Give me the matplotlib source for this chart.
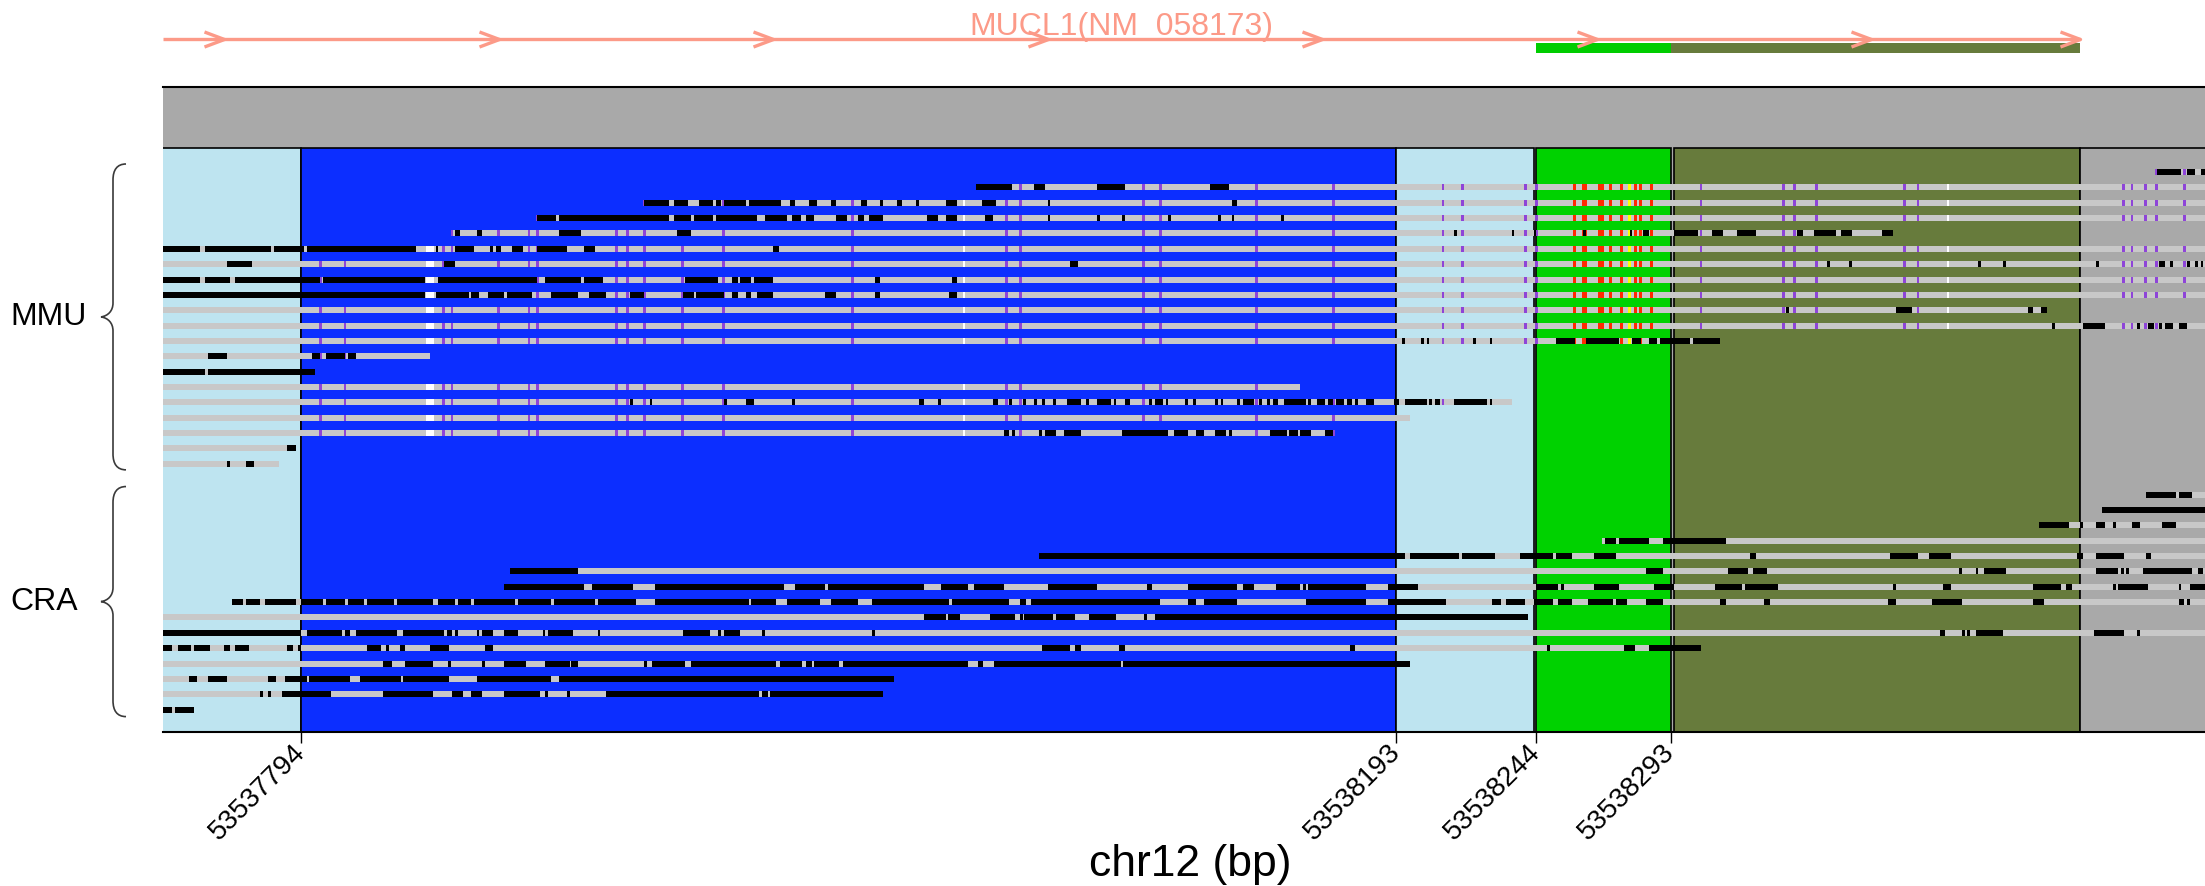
import matplotlib.pyplot as plt
from matplotlib.patches import Rectangle, PathPatch
from matplotlib.path import Path

plt.rcParams['font.family'] = ['Liberation Sans', 'DejaVu Sans']

# chr12 window; read positions below are offsets (bp) from START
START = 53537794
VIEW = (53537743.7, 53538487.6)

REGION_FROM = [53537600, 53537794, 53538193, 53538244, 53538294, 53538442]
REGION_TO = [53537794, 53538193, 53538243, 53538293, 53538442, 53538700]
REGION_COLORS = ['#bee4f0', '#0c2eff', '#bee4f0', '#00d200', '#677b3c', '#a9a9a9']
TICKS = [53537794, 53538193, 53538244, 53538293]

GENE_NAME = 'MUCL1(NM_058173)'
GENE_FROM, GENE_TO = 53537600, 53538442
GENE_UTR = (53538244, 53538293)
GENE_CDS = (53538293, 53538442)
ARROWS = [-28, 72, 172, 272, 372, 472, 572, 648]

# MMU reads
MMU_STARTS = [676, 246, 125, 86, 55, -60, -60, -60, -60, -60,
              -60, -60, -60, -60, -60, -60, -60, -60, -60, -60]
MMU_ENDS = [700, 700, 700, 700, 580, 700, 700, 700, 700, 636,
            700, 517, 47, 5, 364, 441, 404, 376, -2, -8]
MMU_BLACK = [
    [(676, 685), (687, 690), (692, 700)],
    [(246, 259), (267, 271), (290, 300), (331, 338)],
    [(125, 134), (136, 141), (145, 150), (151, 153), (154, 162), (163, 175), (178, 180), (185, 188),
     (193, 195), (204, 206), (211, 212), (217, 219), (224, 225), (235, 239), (248, 253), (272, 273), (339, 341)],
    [(86, 93), (94, 134), (136, 142), (143, 150), (151, 166), (169, 177), (179, 182), (184, 187), (195, 199),
     (203, 205), (207, 212), (228, 232), (235, 239), (249, 252), (272, 273), (290, 291), (299, 300),
     (316, 317), (334, 335), (339, 340), (357, 358)],
    [(56, 58), (64, 66), (94, 102), (137, 142), (420, 421), (441, 442), (449, 450), (467, 468), (484, 485),
     (489, 491), (500, 509), (514, 518), (523, 530), (545, 547), (551, 559), (561, 565), (576, 580)],
    [(-60, -37), (-35, -11), (-10, 1), (2, 42), (49, 50), (56, 63), (69, 70), (71, 73), (77, 81), (86, 97),
     (103, 107), (172, 174)],
    [(-27, -18), (52, 56), (280, 283), (556, 557), (564, 565), (611, 612), (620, 621), (654, 655), (677, 679),
     (681, 682), (687, 688), (690, 691), (692, 693)],
    [(-60, -37), (-35, -26), (-24, 7), (8, 45), (50, 86), (89, 102), (103, 110), (140, 152), (157, 159),
     (160, 164), (165, 172), (209, 211), (237, 239)],
    [(-60, 45), (49, 61), (62, 65), (68, 74), (75, 84), (91, 101), (105, 111), (120, 125), (139, 143),
     (144, 154), (157, 159), (162, 164), (166, 172), (191, 195), (209, 211), (236, 239)],
    [(541, 542), (581, 587), (629, 631), (634, 636)],
    [(638, 639), (649, 657), (669, 670), (673, 675), (677, 678), (679, 682), (684, 687)],
    [(401, 402), (408, 409), (410, 411), (427, 428), (433, 434), (457, 464), (468, 480), (485, 488),
     (491, 494), (495, 506), (507, 517)],
    [(-34, -27), (4, 7), (9, 16), (17, 20)],
    [(-60, -35), (-34, 5)],
    [],
    [(120, 121), (127, 128), (154, 155), (162, 165), (179, 180), (225, 227), (232, 233), (252, 254),
     (258, 259), (263, 264), (267, 268), (270, 271), (274, 275), (279, 284), (286, 287), (290, 295),
     (296, 297), (300, 302), (309, 310), (311, 314), (315, 316), (322, 323), (325, 326), (333, 334),
     (335, 336), (341, 342), (343, 347), (349, 350), (352, 353), (354, 356), (358, 366), (367, 368),
     (370, 373), (374, 376), (377, 380), (381, 383), (384, 385), (388, 391), (398, 400), (402, 410),
     (411, 412), (413, 415), (420, 432), (433, 434)],
    [],
    [(256, 258), (259, 260), (269, 270), (271, 275), (278, 284), (299, 316), (318, 323), (326, 329),
     (333, 337), (338, 339), (353, 359), (360, 363), (364, 368), (373, 376)],
    [(-5, -2)],
    [(-27, -26), (-20, -17)],
]

# CRA reads
CRA_STARTS = [672, 656, 633, 474, 269, 76, 74, -25, -60, -60, -60, -60, -60, -60, -60]
CRA_ENDS = [700, 700, 700, 700, 700, 700, 700, 700, 447, 700, 510, 404, 216, 212, -39]
CRA_BLACK = [
    [(672, 683), (684, 689)],
    [(656, 700)],
    [(633, 644), (648, 649), (654, 657), (660, 661), (667, 670), (678, 683)],
    [(475, 479), (480, 491), (496, 519)],
    [(269, 402), (404, 422), (423, 435), (444, 456), (457, 463), (471, 479), (528, 530), (579, 589),
     (593, 601), (647, 649), (654, 664), (672, 674)],
    [(76, 101), (490, 496), (520, 527), (529, 534), (604, 605), (610, 611), (613, 621), (654, 662),
     (663, 664), (665, 666), (671, 689), (691, 693)],
    [(74, 103), (106, 121), (129, 176), (180, 191), (192, 227), (233, 243), (245, 256), (272, 290),
     (308, 310), (323, 341), (343, 347), (355, 364), (365, 366), (367, 388), (396, 407), (450, 458),
     (459, 460), (471, 480), (493, 500), (515, 525), (526, 538), (580, 581), (598, 601), (631, 641),
     (643, 645), (660, 661), (662, 673), (684, 685), (688, 700)],
    [(-25, -21), (-20, -15), (-13, -2), (0, 8), (9, 16), (17, 23), (24, 34), (35, 48), (50, 56), (57, 62),
     (63, 78), (79, 91), (92, 107), (108, 122), (129, 163), (164, 173), (177, 189), (193, 203), (208, 236),
     (237, 258), (262, 264), (266, 313), (323, 326), (329, 341), (366, 388), (396, 417), (434, 437),
     (439, 446), (449, 456), (458, 463), (469, 478), (479, 483), (490, 496), (517, 519), (533, 535),
     (578, 581), (594, 605), (631, 635), (684, 686), (687, 688)],
    [(227, 235), (235.5, 240), (251, 260), (262, 263), (263.5, 274), (275, 282), (287, 297), (307, 308),
     (311, 447)],
    [(-60, 0), (2, 15), (16, 18), (20, 35), (37, 52), (53, 55), (56, 57), (64, 65), (66, 70), (74, 79),
     (88, 89), (90, 99), (108, 109), (139, 149), (152, 153), (154, 160), (168, 169), (208, 209),
     (597, 599), (605, 606), (607, 608), (610, 620), (653, 664), (669, 670)],
    [(-60, -47), (-45, -40), (-39, -33), (-28, -26), (-24, -19), (-5, -3), (-1, 0), (24, 29), (31, 32),
     (36, 38), (47, 54), (67, 70), (270, 280), (282, 284), (298, 300), (382, 384), (454, 455),
     (482, 486), (491, 510)],
    [(30, 33), (38, 48), (53.6, 54.6), (66, 67), (74, 82), (89, 98), (98.5, 101), (125, 126), (128, 140),
     (142, 173), (174.5, 182.5), (184, 186), (187, 196), (197.5, 243), (246.5, 248.5), (252.5, 298.7),
     (299.5, 404)],
    [(-41, -38), (-34, -27), (-12, -9), (-6, 2), (3, 18), (21.5, 36.4), (37, 54), (64, 91), (94, 216)],
    [(-15, -14), (-12, -11), (-7, 11), (30, 48), (55, 59), (62, 66), (74, 87), (89, 90), (97, 98),
     (111, 167), (168, 170), (171, 212)],
    [(-60, -47), (-46, -39)],
]

# variant columns shared by the MMU reads
PURPLE_SITES = [7, 16, 52, 55, 72, 83, 86, 115, 119, 125, 139, 154, 201, 257, 262, 307, 313, 348, 376,
                416, 423, 446, 450, 510, 540, 544, 552, 584, 589, 664, 667, 672, 676, 686]
RED_SITES = [(464, 1), (467, 2), (473, 2), (477, 1), (481, 1), (486, 1), (488, 1), (492, 1)]
YELLOW_SITES = [(484, 1)]
GAP_SITES = [(45.5, 48.3), (241, 242), (599.5, 600.5)]

# layout (pixel rows of the figure)
W, H = 2205, 886
LEFT = 163
PANEL_TOP, PANEL_BOTTOM, BAND_TOP = 148, 732, 87
ROW_Y0, ROW_STEP, READ_H = 172, 15.36, 6
CRA_FIRST_ROW = 21

fig = plt.figure(figsize=(W / 100, H / 100), dpi=100)
ax = fig.add_axes([LEFT / W, 1 - PANEL_BOTTOM / H, 1 - LEFT / W, (PANEL_BOTTOM - BAND_TOP) / H])
ax.set_facecolor('#a9a9a9')
ax.set_xlim(VIEW)
ax.set_ylim(PANEL_BOTTOM, BAND_TOP)

for x0, x1, c in zip(REGION_FROM, REGION_TO, REGION_COLORS):
    ax.add_patch(Rectangle((x0, PANEL_TOP), x1 - x0, PANEL_BOTTOM - PANEL_TOP,
                           facecolor=c, edgecolor='black', lw=1.2, zorder=1))


def draw_read(row, s, e, blacks, marks):
    y = ROW_Y0 + row * ROW_STEP - READ_H / 2
    ax.broken_barh([(START + s, e - s)], (y, READ_H), facecolors='#c8c8c8', zorder=2)
    if marks:
        purple = [(START + p - 0.5, 1) for p in PURPLE_SITES if s <= p <= e]
        ax.broken_barh(purple, (y, READ_H), facecolors='#8e44d8', zorder=3)
        red = [(START + p - 0.5, w) for p, w in RED_SITES if s <= p <= e]
        ax.broken_barh(red, (y, READ_H), facecolors='#ff2a00', zorder=3)
        yel = [(START + p - 0.5, w) for p, w in YELLOW_SITES if s <= p <= e]
        ax.broken_barh(yel, (y, READ_H), facecolors='#ffff00', zorder=3)
        gaps = [(START + a, b - a) for a, b in GAP_SITES if s <= a and b <= e]
        ax.broken_barh(gaps, (y, READ_H), facecolors='white', zorder=3)
    ax.broken_barh([(START + a, b - a) for a, b in blacks], (y, READ_H), facecolors='black', zorder=4)


for i, (s, e, b) in enumerate(zip(MMU_STARTS, MMU_ENDS, MMU_BLACK)):
    draw_read(i, s, e, b, True)
for i, (s, e, b) in enumerate(zip(CRA_STARTS, CRA_ENDS, CRA_BLACK)):
    draw_read(CRA_FIRST_ROW + i, s, e, b, False)

for side in ['left', 'right']:
    ax.spines[side].set_visible(False)
ax.spines['top'].set_linewidth(1.5)
ax.spines['bottom'].set_linewidth(1.5)
ax.set_yticks([])
ax.set_xticks(TICKS)
ax.set_xticklabels([str(t) for t in TICKS], fontsize=20)
ax.tick_params(axis='x', length=8, width=1, pad=4)
for lab in ax.get_xticklabels():
    lab.set(rotation=45, ha='right', va='center', rotation_mode='anchor')
fig.text(1190 / W, 1 - 876 / H, 'chr12 (bp)', fontsize=32, ha='center', va='baseline')

# gene track
gcol = '#fc9a88'
gx = fig.add_axes([LEFT / W, 1 - BAND_TOP / H, 1 - LEFT / W, BAND_TOP / H])
gx.set_xlim(VIEW)
gx.set_ylim(BAND_TOP, 0)
gx.axis('off')
g0 = max(GENE_FROM, VIEW[0])
gx.plot([g0, GENE_TO], [39, 39], color=gcol, lw=2.4, solid_capstyle='butt')
gx.plot([START + a for a in ARROWS], [39] * len(ARROWS), ls='none',
        marker=[(-1, 0.375), (0, 0), (-1, -0.375)], ms=28.8, mfc='none', mec=gcol, mew=2.4)
gx.broken_barh([(GENE_UTR[0], GENE_UTR[1] - GENE_UTR[0])], (43, 10), facecolors='#00cd00')
gx.broken_barh([(GENE_CDS[0], GENE_CDS[1] - GENE_CDS[0])], (43, 10), facecolors='#677b3c')
gx.text((g0 + GENE_TO) / 2, 35, GENE_NAME, ha='center', va='baseline', fontsize=23, color=gcol)

# group braces and labels
ov = fig.add_axes([0, 0, 1, 1])
ov.set_xlim(0, W)
ov.set_ylim(H, 0)
ov.axis('off')


def brace(top, bottom, label):
    mid = (top + bottom) / 2
    xv, xt, xc = 113, 101, 126
    verts = [(xc, top), (117, top), (xv, top + 6), (xv, top + 16),
             (xv, mid - 14),
             (xv, mid - 6), (108, mid - 1), (xt, mid),
             (108, mid + 1), (xv, mid + 6), (xv, mid + 14),
             (xv, bottom - 16),
             (xv, bottom - 6), (117, bottom), (xc, bottom)]
    codes = [Path.MOVETO] + [Path.CURVE4] * 3 + [Path.LINETO] + [Path.CURVE4] * 6 + \
            [Path.LINETO] + [Path.CURVE4] * 3
    ov.add_patch(PathPatch(Path(verts, codes), fill=False, lw=1.2, edgecolor='#3a3a3a'))
    ov.text(10, mid, label, ha='left', va='center', fontsize=23)


brace(ROW_Y0 - 8, ROW_Y0 + (len(MMU_STARTS) - 1) * ROW_STEP + 6, 'MMU')
brace(ROW_Y0 + CRA_FIRST_ROW * ROW_STEP - 8,
      ROW_Y0 + (CRA_FIRST_ROW + len(CRA_STARTS) - 1) * ROW_STEP + 7, 'CRA')

fig.savefig('out.png', dpi=100)
